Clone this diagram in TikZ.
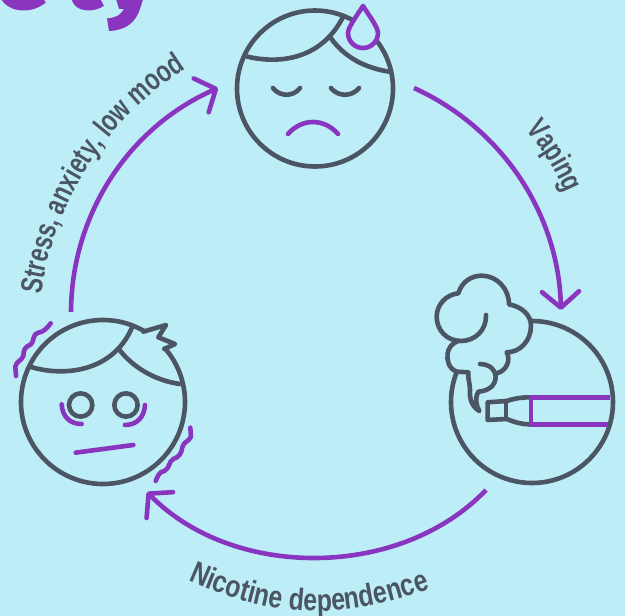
\documentclass[tikz,border=0pt]{standalone}
\usepackage{fontspec}
\usetikzlibrary{arrows.meta,decorations.text}
\newfontfamily\labf[FakeStretch=.74]{Liberation Sans}
\newfontfamily\labw[FakeStretch=.8]{Liberation Sans}
\newfontfamily\titlef[FakeBold=1.5]{Fira Sans}
\newcommand{\labsz}{\labf\bfseries\fontsize{30.5}{31}\selectfont}
\newcommand{\labwz}{\labw\bfseries\fontsize{31}{31}\selectfont}
\definecolor{bgc}{RGB}{189,237,246}
\definecolor{pur}{RGB}{137,53,192}
\definecolor{gry}{RGB}{75,85,99}
\tikzset{
 gline/.style={draw=gry,line width=4.6pt,line cap=round,line join=round},
 pline/.style={draw=pur,line width=4.6pt,line cap=round,line join=round},
 conn/.style={draw=pur,line width=4.6pt,-{Straight Barb[length=16pt,width=37pt,line width=4.6pt,round=false]}},
 lab/.style={decorate,decoration={text along path,text align=center,text color=gry}}
}
\begin{document}
\begin{tikzpicture}[x=1pt,y=-1pt]
\useasboundingbox[fill=bgc] (0,0) rectangle (625,616);
\begin{scope}
\clip (0,0) rectangle (625,616);
\node[anchor=base east,inner sep=0pt,text=pur,font=\titlef\bfseries\fontsize{100}{100}\selectfont] (title) at (156,8) {e\kern14pt t\kern2pt y};
\end{scope}
% centres
\coordinate (sad) at (315,88.5);
\coordinate (vape) at (532,402);
\coordinate (tense) at (103,402);
% sad face
\draw[gline] (sad) circle[radius=78];
\draw[gline] (245,56) .. controls (275,64) and (320,62) .. (343,17);
\draw[gline] (330,37) .. controls (345,58) and (365,68) .. (391,72);
\draw[gline] (273,88) .. controls (280,97) and (293,97) .. (300,88);
\draw[gline] (331,88) .. controls (338,97) and (352,97) .. (359,88);
\draw[pline] (288,134) .. controls (302,118) and (324,118) .. (338,134);
\fill[bgc] (363,6) .. controls (368,14) and (378,27) .. (378,33) arc[start angle=0,end angle=180,radius=15] .. controls (348,27) and (358,14) .. (363,6);
\draw[pline] (363,6) .. controls (368,14) and (378,27) .. (378,33) arc[start angle=0,end angle=180,radius=15] .. controls (348,27) and (358,14) .. (363,6) -- cycle;
% vape
\draw[gline] (vape) ++(-90:81) arc[start angle=-90,end angle=201.8,radius=81];
\begin{scope}[shift={(425,265)},x=.3333pt,y=-.3333pt]
\draw[gline] (183,150) .. controls (185,195) and (150,228) .. (108,228) .. controls (65,228) and (35,195) .. (35,155) .. controls (35,118) and (65,88) .. (100,85)
 .. controls (110,50) and (140,32) .. (170,32) .. controls (215,32) and (252,70) .. (252,118)
 .. controls (290,125) and (318,150) .. (318,182) .. controls (318,228) and (285,262) .. (245,262)
 .. controls (258,285) and (245,318) .. (215,325);
\draw[gline] (165,297) .. controls (195,298) and (212,315) .. (212,335) .. controls (212,362) and (190,378) .. (160,380)
 .. controls (150,395) and (152,420) .. (163,438) .. controls (140,425) and (133,400) .. (135,375) .. controls (135,355) and (128,340) .. (130,322) -- (95,320)
 .. controls (70,310) and (65,285) .. (68,265) .. controls (70,250) and (80,235) .. (100,228);
\draw[gline] (313,397) .. controls (290,397) and (270,400) .. (245,408) -- (188,412) -- (188,465) -- (245,462) .. controls (270,472) and (290,478) .. (313,478);
\draw[gline] (243,412) -- (243,460);
\draw[draw=pur,line width=4.6pt] (555,397) -- (318,397) -- (318,478) -- (550,478);
\end{scope}
% tense face
\draw[gline] (tense) ++(-41:82) arc[start angle=-41,end angle=300,radius=82];
\begin{scope}[shift={(5,310)},x=.3333pt,y=-.3333pt]
\draw[gline] (75,170) .. controls (170,200) and (320,190) .. (380,55);
\draw[gline] (340,115) .. controls (380,170) and (450,212) .. (525,222);
\draw[gline] (415,65) -- (483,45) -- (460,82) -- (510,102) -- (478,117);
\draw[gline] (227,285) circle[radius=35];
\draw[gline] (363,285) circle[radius=35];
\draw[pline] (170,283) .. controls (172,320) and (195,342) .. (230,342);
\draw[pline] (420,285) .. controls (418,322) and (395,345) .. (360,345);
\draw[pline] (212,428) -- (385,405);
\draw[pline] (137,40) .. controls (125,55) and (118,65) .. (100,68) .. controls (80,75) and (88,95) .. (78,103) .. controls (60,110) and (55,120) .. (55,138) .. controls (50,152) and (33,155) .. (31,170) -- (33,198);
\draw[pline] (556,353) -- (558,380) .. controls (552,395) and (535,395) .. (532,412) .. controls (530,432) and (520,442) .. (505,447) .. controls (490,455) and (495,475) .. (478,483) .. controls (462,485) and (458,500) .. (452,513);
\end{scope}
% connectors
\coordinate (a1) at (414,88);
\coordinate (a2) at (561,310);
\coordinate (b1) at (486,490);
\coordinate (b2) at (147,492);
\coordinate (c1) at (71,312);
\coordinate (c2) at (218,88);
\draw[conn] (a1) to[bend left=32,looseness=.93] (a2);
\draw[conn] (b1) to[bend left=46,looseness=.93] (b2);
\draw[conn] (c1) to[bend left=33,looseness=.93] (c2);
% labels
\coordinate (s1) at (41,296);
\coordinate (s2) at (187,68);
\coordinate (v1) at (526,130);
\coordinate (v2) at (565,193);
\coordinate (n1) at (188,580);
\coordinate (n2) at (430,589);
\path[lab,decoration={text={|\labsz|Stress, anxiety, low mood}}] (s1) to[bend left=25,looseness=.9] (s2);
\path[lab,decoration={text={|\labsz|Vaping}}] (v1) to[bend left=8] (v2);
\path[lab,decoration={text={|\labwz|Nicotine dependence}}] (n1) to[bend right=22] (n2);
\end{tikzpicture}
\end{document}
